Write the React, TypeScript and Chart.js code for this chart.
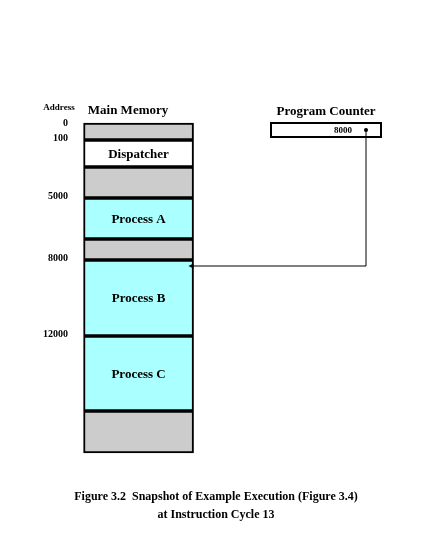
import React, { useEffect, useRef } from "react";
import { Chart, registerables } from "chart.js";
Chart.register(...registerables);

const segmentNames = ["", "Dispatcher", "", "Process A", "", "Process B", "Process C", ""];
const segmentStarts = [123, 140, 167, 198, 239, 260, 336, 411];
const segmentEnds = [140, 167, 198, 239, 260, 336, 411, 453];
const segmentColors = ["#cccccc", "#ffffff", "#cccccc", "#aaffff", "#cccccc", "#aaffff", "#aaffff", "#cccccc"];
const addressLabels = ["0", "100", "", "5000", "", "8000", "12000", ""];
const programCounter = "8000";
const pcTarget = 5; // index of segment pointed to

export default function App() {
  const ref = useRef<HTMLCanvasElement>(null);
  useEffect(() => {
    const F = '"Liberation Serif", "Times New Roman", serif';
    const plugin = {
      id: "deco",
      afterDatasetsDraw(c: any) {
        const ctx = c.ctx;
        const xs = c.scales.x, ys = c.scales.y;
        const L = xs.getPixelForValue(74), R = xs.getPixelForValue(184);
        ctx.save();
        ctx.fillStyle = "#000";
        ctx.textBaseline = "middle";
        ctx.font = `bold 13px ${F}`;
        ctx.textAlign = "center";
        segmentNames.forEach((n, i) => {
          if (!n) return;
          const m = (ys.getPixelForValue(segmentStarts[i]) + ys.getPixelForValue(segmentEnds[i])) / 2;
          ctx.fillText(n, (L + R) / 2, m + 1);
        });
        ctx.fillText("Main Memory", 128, 111);
        ctx.fillText("Program Counter", 326, 112);
        ctx.font = `bold 9px ${F}`;
        ctx.fillText("Address", 59, 108);
        ctx.textAlign = "right";
        ctx.font = `bold 10px ${F}`;
        addressLabels.forEach((a, i) => {
          if (!a) return;
          const y = ys.getPixelForValue(segmentStarts[i]);
          ctx.fillText(a, 68, i === 0 ? y : y - 2);
        });
        // PC box
        ctx.lineWidth = 2;
        ctx.strokeStyle = "#000";
        ctx.strokeRect(271, 123, 110, 14);
        ctx.font = `bold 9px ${F}`;
        ctx.fillText(programCounter, 352, 130.5);
        ctx.beginPath(); ctx.arc(366, 130, 2, 0, Math.PI * 2); ctx.fill();
        const ty = ys.getPixelForValue(segmentStarts[pcTarget]) + 6;
        ctx.lineWidth = 1;
        ctx.beginPath(); ctx.moveTo(366, 130); ctx.lineTo(366, ty); ctx.lineTo(R + 6, ty); ctx.stroke();
        ctx.beginPath(); ctx.moveTo(R + 1, ty); ctx.lineTo(R + 6, ty - 2.5); ctx.lineTo(R + 6, ty + 2.5); ctx.closePath(); ctx.fill();
        ctx.textAlign = "center";
        ctx.font = `bold 12px ${F}`;
        ctx.fillText("Figure 3.2  Snapshot of Example Execution (Figure 3.4)", 216, 497);
        ctx.fillText("at Instruction Cycle 13", 216, 515);
        ctx.restore();
      },
    };
    const chart = new Chart(ref.current!, {
      type: "bar",
      data: {
        datasets: segmentStarts.map((s, i) => ({
          label: segmentNames[i],
          data: [{ x: 129, y: [s, segmentEnds[i]] }],
          backgroundColor: segmentColors[i],
          borderColor: "#000",
          borderWidth: 2,
          borderSkipped: false,
          barThickness: 110,
          grouped: false,
        })) as any,
      },
      options: {
        animation: false,
        responsive: false,
        layout: { padding: 0 },
        plugins: { legend: { display: false }, tooltip: { enabled: false } },
        scales: {
          x: { type: "linear", min: 0, max: 430, display: false },
          y: { type: "linear", min: 0, max: 551, reverse: true, display: false },
        },
      },
      plugins: [plugin],
    });
    return () => chart.destroy();
  }, []);
  return (
    <div style={{ position: "fixed", left: 0, top: 0, width: 430, height: 551, background: "#fff" }}>
      <canvas ref={ref} width={430} height={551} style={{ width: 430, height: 551 }} />
    </div>
  );
}
